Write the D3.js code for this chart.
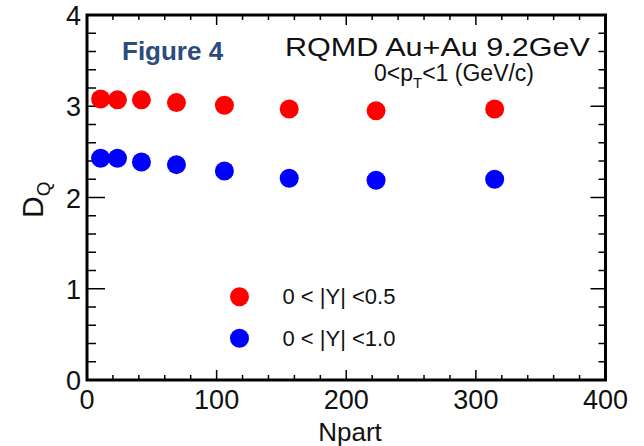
<!DOCTYPE html>
<html><head><meta charset="utf-8">
<script src="https://cdn.jsdelivr.net/npm/d3@7"></script>
<style>body{margin:0;background:#fff}svg{display:block}text{font-family:"Liberation Sans",Arial,sans-serif}</style>
</head><body><svg id="c" width="644" height="446"></svg>
<script>
const npart = [10.5, 23.5, 42, 69, 106, 156, 223, 314.5];
const dqY05 = [3.08, 3.07, 3.07, 3.04, 3.01, 2.97, 2.95, 2.97];
const dqY10 = [2.43, 2.43, 2.39, 2.36, 2.29, 2.21, 2.19, 2.20];
const xTicks = [0, 100, 200, 300, 400];
const yTicks = [0, 1, 2, 3, 4];
const legendLabels = ["0 < |Y| <0.5", "0 < |Y| <1.0"];
const seriesColors = ["#ff0000", "#0000ff"];

const svg = d3.select("#c");
const L = 87, R = 605.5, T = 15, B = 380;
const x = d3.scaleLinear().domain([0, 400]).range([L, R]);
const y = d3.scaleLinear().domain([0, 4]).range([B, T]);

const minorX = d3.range(0, 401, 20).filter(v => v % 100 !== 0);
const minorY = d3.range(0, 4.001, 0.2).map(v => +v.toFixed(1)).filter(v => Math.abs(v - Math.round(v)) > 1e-6);

// ticks
const tk = svg.append("g").attr("stroke", "#000").attr("stroke-width", 1.5);
xTicks.forEach(v => {
  tk.append("line").attr("x1", x(v)).attr("x2", x(v)).attr("y1", B).attr("y2", B - 10);
  tk.append("line").attr("x1", x(v)).attr("x2", x(v)).attr("y1", T).attr("y2", T + 10);
});
minorX.forEach(v => {
  tk.append("line").attr("x1", x(v)).attr("x2", x(v)).attr("y1", B).attr("y2", B - 5);
  tk.append("line").attr("x1", x(v)).attr("x2", x(v)).attr("y1", T).attr("y2", T + 5);
});
yTicks.forEach(v => {
  tk.append("line").attr("x1", L).attr("x2", L + 18).attr("y1", y(v)).attr("y2", y(v));
  tk.append("line").attr("x1", R).attr("x2", R - 15).attr("y1", y(v)).attr("y2", y(v));
});
minorY.forEach(v => {
  tk.append("line").attr("x1", L).attr("x2", L + 9).attr("y1", y(v)).attr("y2", y(v));
  tk.append("line").attr("x1", R).attr("x2", R - 7).attr("y1", y(v)).attr("y2", y(v));
});

// frame
svg.append("rect").attr("x", L).attr("y", T).attr("width", R - L).attr("height", B - T)
  .attr("fill", "none").attr("stroke", "#000").attr("stroke-width", 3);

// tick labels
svg.append("g").selectAll("text").data(xTicks).join("text")
  .attr("x", d => x(d)).attr("y", 409).attr("text-anchor", "middle")
  .attr("font-size", 27).attr("fill", "#111").text(d => d);
svg.append("g").selectAll("text").data(yTicks).join("text")
  .attr("x", 81).attr("y", d => y(d) + 10).attr("text-anchor", "end")
  .attr("font-size", 27).attr("fill", "#111").text(d => d);

// axis titles
svg.append("text").attr("x", 350).attr("y", 441).attr("text-anchor", "middle")
  .attr("font-size", 26).attr("fill", "#111").text("Npart");
const yt = svg.append("text").attr("transform", "translate(43,218) rotate(-90)")
  .attr("font-size", 30).attr("fill", "#111");
yt.append("tspan").text("D");
yt.append("tspan").attr("font-size", 19).attr("dy", 7).text("Q");

// data
const series = [dqY05, dqY10];
series.forEach((vals, i) => {
  svg.append("g").selectAll("circle").data(vals).join("circle")
    .attr("cx", (d, j) => x(npart[j])).attr("cy", d => y(d)).attr("r", 9.5)
    .attr("fill", seriesColors[i]);
});

// annotations
svg.append("text").attr("x", 122).attr("y", 60).attr("font-family", "Lato, 'Open Sans', sans-serif")
  .attr("font-weight", "bold").attr("font-size", 26).attr("fill", "#2b4c7e").text("Figure 4");
svg.append("text").attr("x", 285).attr("y", 56).attr("font-size", 25)
  .attr("textLength", 305).attr("lengthAdjust", "spacingAndGlyphs").attr("fill", "#111")
  .text("RQMD Au+Au 9.2GeV");
const pt = svg.append("text").attr("x", 374).attr("y", 81).attr("font-size", 23).attr("fill", "#111");
pt.append("tspan").text("0<p");
pt.append("tspan").attr("font-size", 15).attr("dy", 7).text("T");
pt.append("tspan").attr("dy", -7).text("<1 (GeV/c)");

// legend
legendLabels.forEach((lab, i) => {
  const ly = [296.7, 338.3][i];
  svg.append("circle").attr("cx", 239.5).attr("cy", ly).attr("r", 9.5).attr("fill", seriesColors[i]);
  svg.append("text").attr("x", 282.5).attr("y", ly + 7.5).attr("font-size", 22).attr("fill", "#111").text(lab);
});
</script></body></html>
